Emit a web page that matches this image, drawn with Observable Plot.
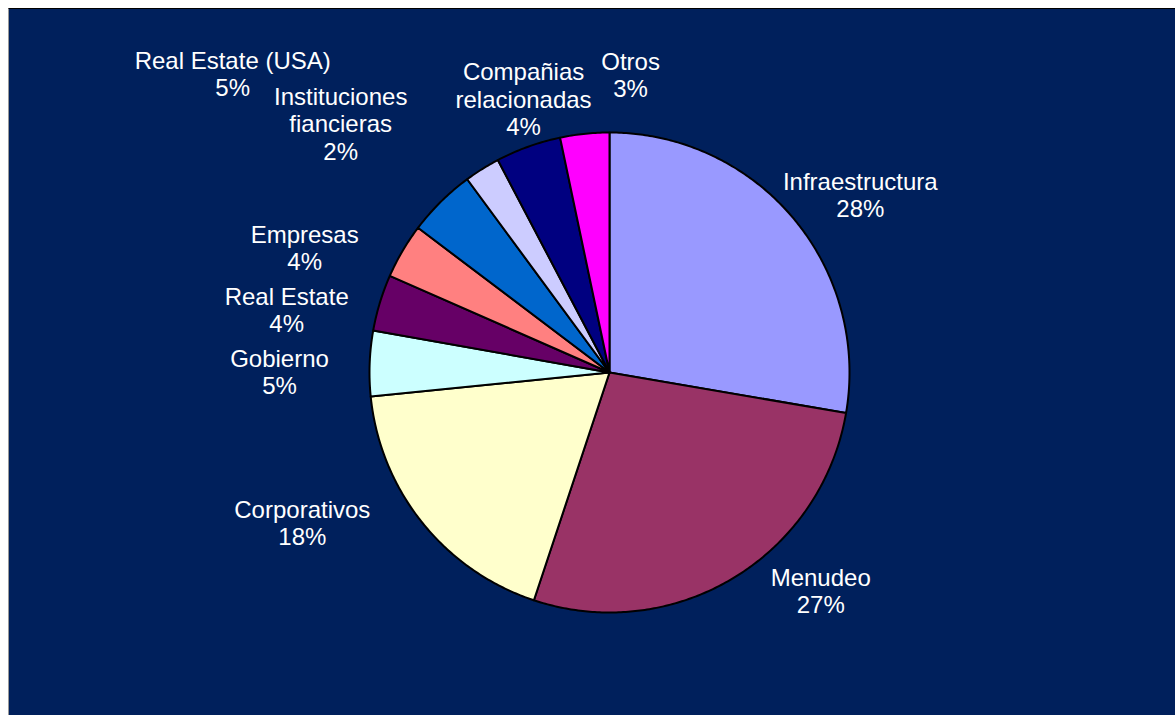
<!DOCTYPE html>
<html><head><meta charset="utf-8">
<script src="https://cdn.jsdelivr.net/npm/d3@7"></script>
<script src="https://cdn.jsdelivr.net/npm/@observablehq/plot@0.6"></script>
<style>
html,body{margin:0;padding:0;background:#fff;width:1175px;height:715px;overflow:hidden}
#bg{position:absolute;left:8px;top:8px;width:1167px;height:707px;background:#00205C;border-top:1px solid #000;border-left:1px solid #999;box-sizing:border-box}
#chart{position:absolute;left:0;top:0}
</style></head><body><div id="bg"></div><div id="chart"></div>
<script>
// Data (clockwise from 12 o'clock)
const categories = ["Infraestructura", "Menudeo", "Corporativos", "Gobierno", "Real Estate", "Empresas", "Real Estate (USA)", "Instituciones\nfiancieras", "Compañias\nrelacionadas", "Otros"];
const shares = [27.7, 27.4, 18.3, 4.4, 3.8, 3.7, 4.6, 2.4, 4.4, 3.3];
const pctLabels = ["28%", "27%", "18%", "5%", "4%", "4%", "5%", "2%", "4%", "3%"];

// Styling / layout (kept apart from data)
const colors = ["#9999FF", "#993366", "#FFFFCC", "#CCFFFF", "#660066", "#FF8080", "#0066CC", "#CCCCFF", "#000080", "#FF00FF"];
// label centres, in units of the pie radius relative to the centre (y up)
const labelX = [1.045, 0.88, -1.28, -1.375, -1.345, -1.27, -1.57, -1.12, -0.358, 0.088];
const labelY = [0.741, -0.909, -0.625, 0.004, 0.262, 0.52, 1.245, 1.037, 1.141, 1.241];

const W = 1175, H = 715, CX = 609, CY = 372, R = 240;

const arcs = d3.pie().sort(null).value(d => d)(shares);
const slicePts = [];
arcs.forEach((p, i) => {
  const cat = categories[i];
  const n = Math.max(2, Math.ceil((p.endAngle - p.startAngle) / 0.01));
  slicePts.push({cat, x: 0, y: 0});
  for (let k = 0; k <= n; k++) {
    const a = p.startAngle + (p.endAngle - p.startAngle) * k / n;
    slicePts.push({cat, x: Math.sin(a), y: Math.cos(a)});
  }
  slicePts.push({cat, x: 0, y: 0});
});

const labels = categories.map((c, i) => ({x: labelX[i], y: labelY[i], text: c + "\n" + pctLabels[i]}));

const chart = Plot.plot({
  width: W, height: H,
  margin: 0,
  style: {background: "transparent", overflow: "visible"},
  x: {domain: [-CX / R, (W - CX) / R], range: [0, W], axis: null},
  y: {domain: [(CY - H) / R, CY / R], range: [H, 0], axis: null},
  color: {domain: categories, range: colors},
  marks: [
    Plot.line(slicePts, {x: "x", y: "y", z: "cat", fill: "cat", stroke: "#000", strokeWidth: 2, strokeLinejoin: "round", curve: "linear"}),
    Plot.text(labels, {x: "x", y: "y", text: "text", fill: "white", fontSize: 24, lineHeight: 1.15, fontFamily: "Arial, 'Liberation Sans', sans-serif", textAnchor: "middle"})
  ]
});
document.getElementById("chart").appendChild(chart);
</script>
</body></html>
